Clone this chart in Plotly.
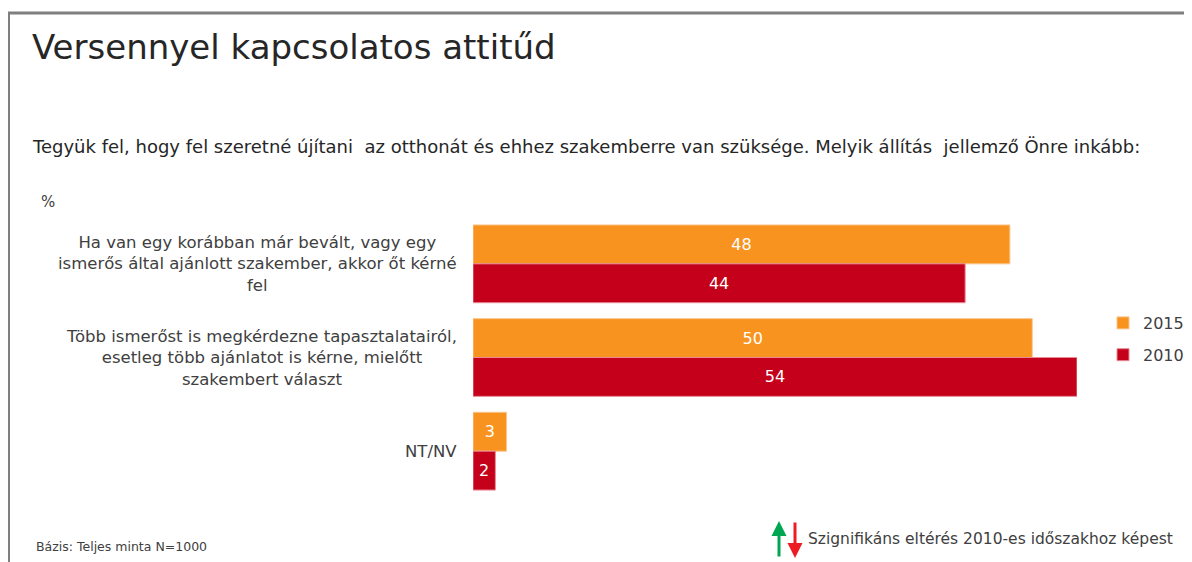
import plotly.graph_objects as go

categories = [
    "Ha van egy korábban már bevált, vagy egy<br>ismerős által ajánlott szakember, akkor őt kérné<br>fel",
    "Több ismerőst is megkérdezne tapasztalatairól,<br>esetleg több ajánlatot is kérne, mielőtt<br>szakembert választ",
    "NT/NV",
]
cat_ids = ["c1", "c2", "c3"]
values_2015 = [48, 50, 3]
values_2010 = [44, 54, 2]

FONT = "DejaVu Sans"
OFF = 8  # page body margin
W, H = 1192 - OFF, 562 - OFF
L, R, T, B = 473 - OFF, 1192 - 1077, 217 - OFF, 562 - 498
pw, ph = W - L - R, H - T - B


def px(x):
    return (x - OFF - L) / pw


def py(y):
    return (H - B - (y - OFF)) / ph


fig = go.Figure()
fig.add_trace(go.Bar(
    y=cat_ids, x=values_2015, name="2015", orientation="h", legendgroup="a",
    marker=dict(color="#F7931E", line=dict(color="#FBC58A", width=1)),
    text=values_2015, textposition="inside", insidetextanchor="middle",
    textfont=dict(color="white", size=16, family=FONT),
))
fig.add_trace(go.Bar(
    y=cat_ids, x=values_2010, name="2010", orientation="h", legendgroup="b",
    marker=dict(color="#C4001A", line=dict(color="#E98A95", width=1)),
    text=values_2010, textposition="inside", insidetextanchor="middle",
    textfont=dict(color="white", size=16, family=FONT),
))

annotations = []
# category labels, centred lines
for cid, lab in zip(cat_ids, categories):
    annotations.append(dict(
        x=px(459), y=cid, xref="paper", yref="y", text=lab,
        xanchor="right", yanchor="middle", align="center", showarrow=False,
        font=dict(size=16.5, color="#404040", family=FONT),
    ))

annotations += [
    dict(x=px(30), y=py(47), xref="paper", yref="paper",
         text="Versennyel kapcsolatos attitűd", xanchor="left", yanchor="middle",
         showarrow=False, font=dict(size=34, color="#262626", family=FONT)),
    dict(x=px(30), y=py(147), xref="paper", yref="paper",
         text="Tegyük fel, hogy fel szeretné újítani  az otthonát és ehhez szakemberre van szüksége. Melyik állítás  jellemző Önre inkább:",
         xanchor="left", yanchor="middle", showarrow=False,
         font=dict(size=18, color="#262626", family=FONT)),
    dict(x=px(39), y=py(202), xref="paper", yref="paper", text="%",
         xanchor="left", yanchor="middle", showarrow=False,
         font=dict(size=15, color="#404040", family=FONT)),
    dict(x=px(34), y=py(546), xref="paper", yref="paper", text="Bázis: Teljes minta N=1000",
         xanchor="left", yanchor="middle", showarrow=False,
         font=dict(size=12.5, color="#404040", family=FONT)),
    dict(x=px(806), y=py(539), xref="paper", yref="paper",
         text="Szignifikáns eltérés 2010-es időszakhoz képest",
         xanchor="left", yanchor="middle", showarrow=False,
         font=dict(size=15.5, color="#404040", family=FONT)),
    # significance arrows
    dict(x=px(779), y=py(521), xref="paper", yref="paper", text="",
         showarrow=True, ax=0, ay=37, arrowhead=2, arrowsize=1, arrowwidth=3,
         arrowcolor="#00A651"),
    dict(x=px(795), y=py(558), xref="paper", yref="paper", text="",
         showarrow=True, ax=0, ay=-37, arrowhead=2, arrowsize=1, arrowwidth=3,
         arrowcolor="#ED1C24"),
]

shapes = [
    dict(type="line", xref="paper", yref="paper", x0=px(8.5), x1=px(8.5),
         y0=py(13), y1=py(570), line=dict(color="#7F7F7F", width=3)),
    dict(type="line", xref="paper", yref="paper", x0=px(7), x1=px(1200),
         y0=py(13), y1=py(13), line=dict(color="#7F7F7F", width=3)),
]

fig.update_layout(
    width=W, height=H,
    margin=dict(l=L, r=R, t=T, b=B, autoexpand=False),
    barmode="group", bargap=0.17, bargroupgap=0,
    plot_bgcolor="white", paper_bgcolor="white",
    font=dict(family=FONT, color="#404040"),
    xaxis=dict(range=[0, 54], visible=False, fixedrange=True),
    yaxis=dict(autorange="reversed", showticklabels=False, showgrid=False,
               zeroline=False, showline=False, ticks=""),
    legend=dict(x=px(1103), y=py(306), xanchor="left", yanchor="top",
                font=dict(size=16, color="#404040", family=FONT),
                itemwidth=30, tracegroupgap=8, traceorder="grouped"),
    annotations=annotations,
    shapes=shapes,
)

fig.write_html("out.html")
